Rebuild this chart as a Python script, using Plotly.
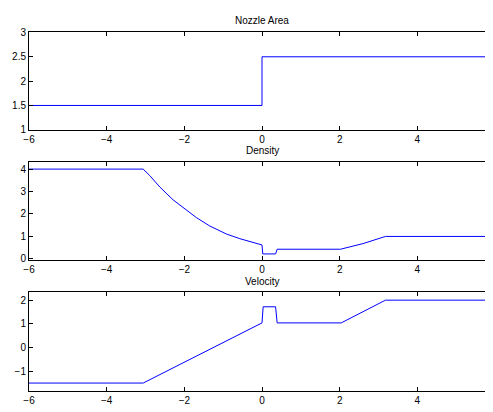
import plotly.graph_objects as go
from plotly.subplots import make_subplots

# Nozzle area
area_x = [-6, 0, 0, 6]
area_y = [1.5, 1.5, 2.5, 2.5]

# Density
dens_x = [-6, -3.06, -2.89, -2.63, -2.29, -2.03, -1.69, -1.35, -0.92, -0.57, 0.0, 0.02, 0.35, 0.39, 2.02, 2.6, 3.18, 6]
dens_y = [4.0, 4.0, 3.71, 3.20, 2.63, 2.27, 1.84, 1.47, 1.11, 0.90, 0.62, 0.22, 0.22, 0.43, 0.43, 0.68, 1.0, 1.0]

# Velocity
vel_x = [-6, -3.06, 0.0, 0.03, 0.35, 0.39, 2.04, 3.18, 6]
vel_y = [-1.5, -1.5, 1.04, 1.72, 1.72, 1.04, 1.04, 2.0, 2.0]

titles = ["Nozzle Area", "Density", "Velocity"]
x_ticks = [-6, -4, -2, 0, 2, 4, 6]
y_ticks = [[1, 1.5, 2, 2.5, 3], [0, 1, 2, 3, 4], [-1, 0, 1, 2]]
y_ranges = [[1, 3], [-0.06, 4.32], [-1.82, 2.33]]

W, H = 493, 412
OFF = 8  # page body margin
fig = make_subplots(rows=3, cols=1)

series = [(area_x, area_y), (dens_x, dens_y), (vel_x, vel_y)]
for i, (xs, ys) in enumerate(series):
    fig.add_trace(go.Scatter(x=xs, y=ys, mode="lines",
                             line=dict(color="#0000ff", width=1),
                             showlegend=False, hoverinfo="skip"),
                  row=i + 1, col=1)

# panel pixel extents on screen (top, bottom)
panels = [(28, 128), (161, 262), (295, 396)]
title_y = [16, 149, 284]

font = dict(family="Liberation Sans, Arial, Helvetica, sans-serif", size=10, color="black")

for i, (top, bot) in enumerate(panels):
    xa = "xaxis" if i == 0 else f"xaxis{i+1}"
    ya = "yaxis" if i == 0 else f"yaxis{i+1}"
    fig.layout[xa].update(
        domain=[0, 1], range=[-6, 6], tickvals=x_ticks,
        ticks="inside", ticklen=4, tickcolor="black", tickwidth=1,
        showline=True, linecolor="black", linewidth=1, mirror="ticks",
        showgrid=False, zeroline=False, tickfont=font,
    )
    fig.layout[ya].update(
        domain=[1 - (bot - OFF) / H, 1 - (top - OFF) / H], range=y_ranges[i],
        tickvals=y_ticks[i],
        ticks="inside", ticklen=4, tickcolor="black", tickwidth=1,
        showline=True, linecolor="black", linewidth=1, mirror="ticks",
        showgrid=False, zeroline=False, tickfont=font,
    )
    fig.add_annotation(text=titles[i], xref="paper", yref="paper",
                       x=0.5, y=1 - (title_y[i] - OFF) / H, showarrow=False,
                       xanchor="center", yanchor="middle",
                       font=dict(family=font["family"], size=10, color="black"))

fig.update_layout(
    width=W, height=H,
    margin=dict(l=21, r=6, t=0, b=0),
    paper_bgcolor="white", plot_bgcolor="white",
)

fig.write_html("out.html")
